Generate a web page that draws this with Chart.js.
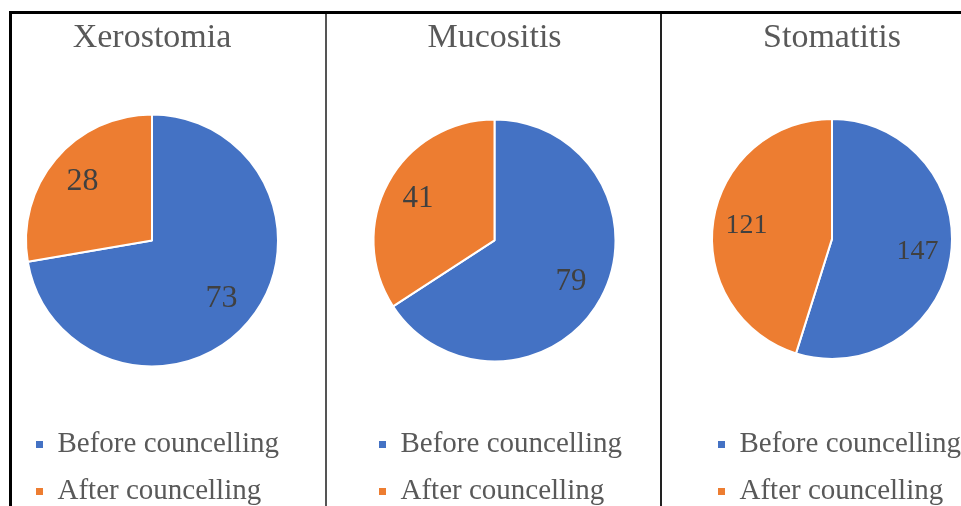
<!DOCTYPE html>
<html lang="en">
<head>
<meta charset="UTF-8">
<title>Councelling pies</title>
<script src="https://cdn.jsdelivr.net/npm/chart.js"></script>
<style>
  html, body { margin: 0; padding: 0; background: #fff; }
  body { width: 961px; height: 506px; overflow: hidden; position: relative; }
  .line { position: absolute; }
  canvas { position: absolute; top: 0; }
</style>
</head>
<body>
<div class="line" style="left:9px;top:11px;width:952px;height:3px;background:#000"></div>
<div class="line" style="left:9px;top:11px;width:3px;height:495px;background:#000"></div>
<div class="line" style="left:325px;top:14px;width:2px;height:492px;background:#555"></div>
<div class="line" style="left:660px;top:14px;width:2px;height:492px;background:#222"></div>

<canvas id="pie0" width="268" height="516" style="left:18px"></canvas>
<canvas id="pie1" width="267" height="516" style="left:361px"></canvas>
<canvas id="pie2" width="264" height="516" style="left:700px"></canvas>

<script>
// data
const categories = ['Xerostomia', 'Mucositis', 'Stomatitis'];
const seriesLabels = ['Before councelling', 'After councelling'];
const beforeCounts = [73, 79, 147];
const afterCounts = [28, 41, 121];

const colors = ['#4472C4', '#ED7D31'];
const serif = '"Liberation Serif", "Times New Roman", serif';

// Excel-like data labels sitting inside the slices
const sliceLabels = {
    id: 'sliceLabels',
    afterDatasetsDraw(chart, args, opts) {
        const ctx = chart.ctx;
        const meta = chart.getDatasetMeta(0);
        const values = chart.data.datasets[0].data;
        ctx.save();
        ctx.font = opts.size + 'px ' + serif;
        ctx.fillStyle = '#404040';
        ctx.textAlign = 'center';
        ctx.textBaseline = 'middle';
        meta.data.forEach((arc, i) => {
            const p = arc.getProps(['x', 'y', 'startAngle', 'endAngle', 'outerRadius'], true);
            const mid = (p.startAngle + p.endAngle) / 2;
            const r = p.outerRadius * 0.72;
            ctx.fillText(values[i], p.x + Math.cos(mid) * r, p.y + Math.sin(mid) * r);
        });
        ctx.restore();
    }
};

const panelStyle = [
    { radius: 126, labelSize: 32, titleBottom: 10 },
    { radius: 121, labelSize: 31, titleBottom: 10 },
    { radius: 120, labelSize: 28, titleBottom: 7 }
];

function makePie(i) {
    const st = panelStyle[i];
    new Chart(document.getElementById('pie' + i), {
        type: 'pie',
        data: {
            labels: seriesLabels,
            datasets: [{
                data: [beforeCounts[i], afterCounts[i]],
                backgroundColor: colors,
                borderColor: '#fff',
                borderWidth: 2,
                radius: st.radius
            }]
        },
        options: {
            responsive: false,
            animation: false,
            layout: { padding: 0 },
            plugins: {
                title: {
                    display: true,
                    text: categories[i],
                    color: '#595959',
                    font: { family: serif, size: 34, weight: 'normal' },
                    padding: { top: 18, bottom: st.titleBottom }
                },
                legend: {
                    position: 'bottom',
                    align: 'start',
                    labels: {
                        color: '#595959',
                        font: { family: serif, size: 29 },
                        boxWidth: 7,
                        boxHeight: 7,
                        padding: 18,
                        generateLabels(chart) {
                            // plain filled squares, no white outline
                            return Chart.overrides.pie.plugins.legend.labels.generateLabels(chart)
                                .map(item => Object.assign(item, { lineWidth: 0, strokeStyle: item.fillStyle }));
                        }
                    }
                },
                tooltip: { enabled: false },
                sliceLabels: { size: st.labelSize }
            }
        },
        plugins: [sliceLabels]
    });
}

categories.forEach((c, i) => makePie(i));
</script>
</body>
</html>
